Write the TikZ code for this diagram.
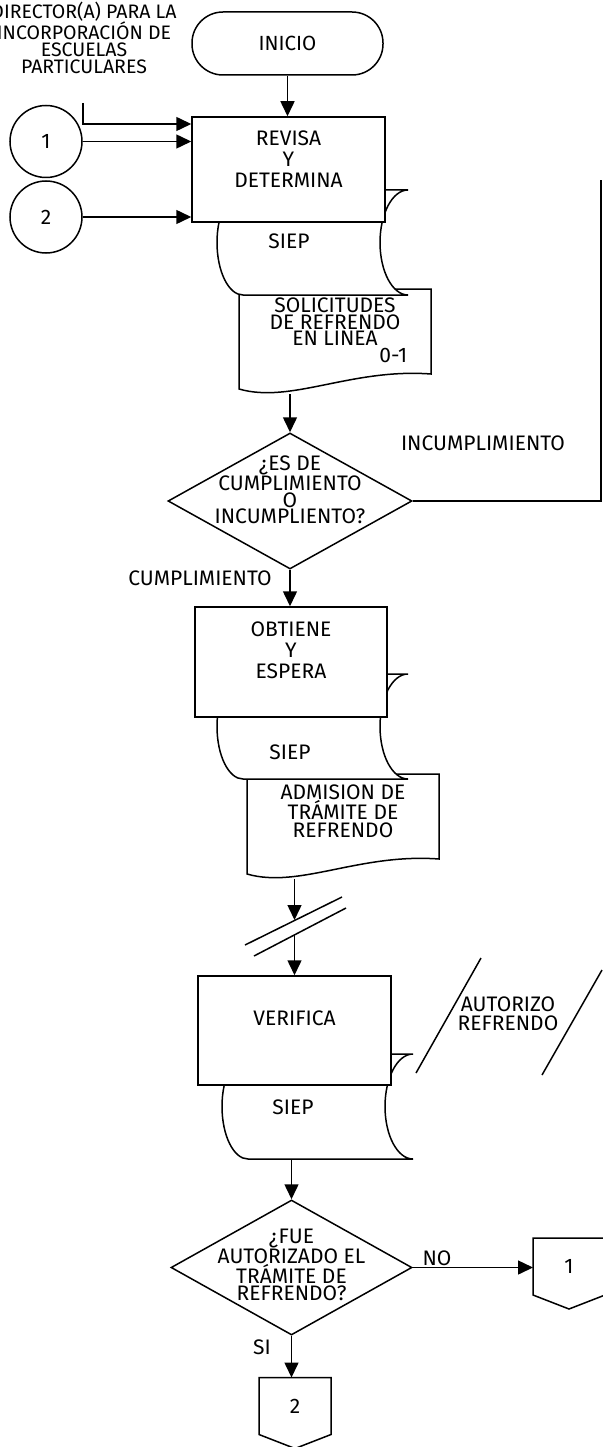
\documentclass[tikz,border=0pt]{standalone}
\usepackage{fontspec}
\setmainfont{Fira Sans}
\usetikzlibrary{shapes.geometric,arrows.meta,positioning}

\begin{document}
\begin{tikzpicture}[x=1pt, y=1pt, line width=1.5pt, >={Triangle[length=15pt,width=14pt]},
    proc/.style={rectangle, draw, fill=white, minimum width=193pt, minimum height=105pt, inner sep=0pt},
    term/.style={rectangle, draw, fill=white, rounded corners=31pt, minimum width=191pt, minimum height=63pt, font=\fontsize{20.5}{22}\selectfont},
    decision/.style={diamond, draw, fill=white, inner sep=0pt, minimum width=244pt, minimum height=136pt},
    conn/.style={circle, draw, minimum size=72pt, inner sep=0pt, font=\fontsize{21}{21}\selectfont},
    offpage/.style={minimum width=72pt, minimum height=57pt, inner sep=0pt, outer sep=0pt, font=\fontsize{21}{21}\selectfont},
    txt/.style={align=center, inner sep=0pt, font=\fontsize{21}{21}\selectfont},
    tight/.style={font=\fontsize{21}{16.5}\selectfont},
    lbl/.style={inner sep=0pt, font=\fontsize{21}{20}\selectfont},
    ar/.style={->},
    storage/.pic={
      \draw[fill=white] (0,0) -- (-165,0) arc[start angle=90, end angle=270, x radius=26pt, y radius=52.5pt]
        -- (0,-105) arc[start angle=270, end angle=90, x radius=28pt, y radius=52.5pt] -- cycle;
      \coordinate (-out) at (-121,-105);
    },
    docpage/.pic={
      \draw[fill=white] (0,0) -- (192,0) -- (192,-85) .. controls (112,-79) and (52,-115) .. (0,-100) -- cycle;
      \coordinate (-out) at (50,-105);
    }]
    \useasboundingbox (0,0) rectangle (602,-1447);

    % documentos y SIEP
    \pic (doc1) at (239,-289) {docpage};
    \pic (doc2) at (247,-774) {docpage};
    \pic (st1) at (408,-190) {storage};
    \pic (st2) at (408,-674) {storage};
    \pic (st3) at (413,-1054) {storage};

    \node [term] (inicio) at (287.5,-43.5) {INICIO};
    \node [lbl, align=center, font=\fontsize{19.5}{17}\selectfont] (director) at (84,-38) {DIRECTOR(A) PARA LA\\INCORPORACIÓN DE\\ESCUELAS\\PARTICULARES};
    \coordinate (dirA) at (83,-103);
    \node [conn] (c1) at (46,-141.5) {1};
    \node [conn, below=2pt of c1] (c2) {2};
    \node [proc, label={[txt, yshift=10pt]center:{REVISA\\Y\\DETERMINA}}] (revisa) at (288.5,-169.5) {};
    \node [lbl] (siep1) at (289,-241) {SIEP};
    \node [txt, tight] (doc1t) at (335,-322) {SOLICITUDES\\DE REFRENDO\\EN LINEA};
    \node [lbl, anchor=east] (doc1n) at (408,-355) {0-1};

    \node [decision, label={[txt, tight, yshift=11pt]center:{¿ES DE\\CUMPLIMIENTO\\O\\INCUMPLIENTO?}}] (dec1) at (290,-501) {};
    \coordinate (inc) at (601,-180);
    \node [lbl] (lblinc) at (483,-443) {INCUMPLIMIENTO};
    \node [lbl] (lblcum) at (200,-578) {CUMPLIMIENTO};

    \node [proc, minimum width=192pt, minimum height=110pt, label={[txt, yshift=12pt]center:{OBTIENE\\Y\\ESPERA}}] (obtiene) at (291,-662) {};
    \node [lbl] (siep2) at (290,-752) {SIEP};
    \node [txt, font=\fontsize{21}{17.5}\selectfont] (doc2t) at (343,-811) {ADMISION DE\\TRÁMITE DE\\REFRENDO};

    % corte
    \coordinate (cut1a) at (245,-945);
    \coordinate (cut1b) at (342,-897);
    \coordinate (cut2a) at (254,-956);
    \coordinate (cut2b) at (346,-908);
    \coordinate (cutA) at (294.5,-920);
    \coordinate (cutB) at (294.5,-935);

    \node [proc, minimum height=109pt, label={[txt, yshift=12.5pt]center:VERIFICA}] (verifica) at (294.5,-1030.5) {};
    \node [lbl] (siep3) at (293,-1107) {SIEP};
    \coordinate (par1a) at (416,-1073);
    \coordinate (par1b) at (481,-958);
    \coordinate (par2a) at (542,-1075);
    \coordinate (par2b) at (602,-970);
    \node [txt, font=\fontsize{21}{19}\selectfont] (autorizo) at (508,-1014) {AUTORIZO\\REFRENDO};

    \node [decision, minimum width=241pt, minimum height=135pt, label={[txt, tight, yshift=3pt]center:{¿FUE\\AUTORIZADO EL\\TRÁMITE DE\\REFRENDO?}}] (dec2) at (291.5,-1267.5) {};
    \node [offpage] (off1) at (569,-1266.5) {1};
    \node [offpage] (off2) at (295,-1406) {2};
    \node [lbl] (lblno) at (437,-1258) {NO};
    \node [lbl] (lblsi) at (262,-1347) {SI};

    \draw [ar] (inicio.south) -- (inicio.south |- revisa.north);
    \draw [ar] (dirA) |- ([yshift=45.5pt]revisa.west);
    \draw [ar] (c1) -- (c1 -| revisa.west);
    \draw [ar] (c2) -- (c2 -| revisa.west);
    \draw [ar] (dec1.north |- doc1-out) -- (dec1.north);
    \draw (dec1.east) -| (inc);
    \draw [ar] (dec1.south) -- (dec1.south |- obtiene.north);
    \draw [ar] (verifica.north |- doc2-out) -- (cutA);
    \draw (cut1a) -- (cut1b);
    \draw (cut2a) -- (cut2b);
    \draw [ar] (cutB) -- (verifica.north);
    \draw (par1a) -- (par1b);
    \draw (par2a) -- (par2b);
    \draw [ar] (dec2.north |- st3-out) -- (dec2.north);
    \draw [ar] (dec2.east) -- (dec2.east -| off1.west);
    \draw [ar] (dec2.south) -- (dec2.south |- off2.north);
    \draw (off1.north west) -- (off1.north east) -- (off1.south east) -- ([yshift=-14pt]off1.south) -- (off1.south west) -- cycle;
    \draw (off2.north west) -- (off2.north east) -- (off2.south east) -- ([yshift=-14pt]off2.south) -- (off2.south west) -- cycle;
\end{tikzpicture}
\end{document}
